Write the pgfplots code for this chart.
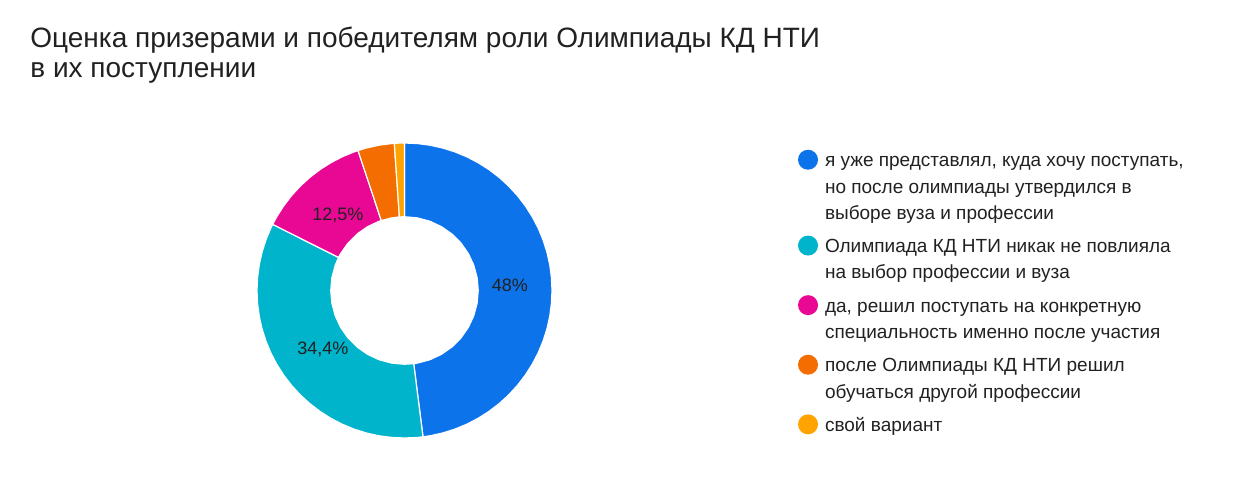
\documentclass[border=0pt]{standalone}
\usepackage{pgfplots}
\pgfplotsset{compat=1.18}
\usepackage{fontspec}
\setmainfont{Liberation Sans}

\definecolor{cBlue}{RGB}{13,115,234}
\definecolor{cTeal}{RGB}{0,180,204}
\definecolor{cPink}{RGB}{233,8,147}
\definecolor{cOrange}{RGB}{243,109,0}
\definecolor{cYellow}{RGB}{255,163,0}
\definecolor{txt}{RGB}{33,33,33}

% legend entry: first baseline is the entry baseline
\newcommand{\lent}[1]{\parbox[t]{200pt}{\strut #1\strut}}

\begin{document}
\begin{tikzpicture}
\path[use as bounding box] (0,0) rectangle (625pt,-246pt);
\begin{scope}[x=0.5pt,y=-0.5pt]
\coordinate (ctr) at (404.5,290.5);
\node[anchor=base west, inner sep=0pt, text=txt, font=\fontsize{14}{16}\selectfont]
  at (30,48) {Оценка призерами и победителям роли Олимпиады КД НТИ};
\node[anchor=base west, inner sep=0pt, text=txt, font=\fontsize{14}{16}\selectfont]
  at (30,78) {в их поступлении};
\end{scope}

% shares: 48 / 34.4 / 12.5 / 4.0 / 1.1 %, clockwise from 12 o'clock
% sectors given as (angle, radius), outer radius 1, inner radius 0.5
\begin{axis}[
    at={(ctr)}, anchor=center,
    x=73.75pt, y=73.75pt,
    xmin=-1, xmax=1, ymin=-1, ymax=1,
    hide axis, clip=false,
    legend image code/.code={\fill[#1, draw=none] (5pt,0.36em) circle (5pt);},
    legend style={at={(axis description cs:1.834,0.981)}, anchor=north west,
        draw=none, fill=none, inner sep=0pt, outer sep=0pt,
        row sep=3.6pt, column sep=3.5pt,
        font=\fontsize{9.5}{13.1}\selectfont,
        cells={anchor=base west}, nodes={inner sep=0pt, text depth=, text=txt}},
]
\addplot[data cs=polar, fill=cBlue, draw=white, line width=0.6pt] coordinates {
 (90,1)(85,1)(80,1)(75,1)(70,1)(65,1)(60,1)(55,1)(50,1)(45,1)(40,1)(35,1)
 (30,1)(25,1)(20,1)(15,1)(10,1)(5,1)(0,1)(-5,1)(-10,1)(-15,1)(-20,1)(-25,1)
 (-30,1)(-35,1)(-40,1)(-45,1)(-50,1)(-55,1)(-60,1)(-65,1)(-70,1)(-75,1)(-80,1)(-82.8,1)
 (-82.8,0.5)(-80,0.5)(-70,0.5)(-60,0.5)(-50,0.5)(-40,0.5)(-30,0.5)(-20,0.5)(-10,0.5)
 (0,0.5)(10,0.5)(20,0.5)(30,0.5)(40,0.5)(50,0.5)(60,0.5)(70,0.5)(80,0.5)(90,0.5)
} -- cycle;
\addlegendentry{\lent{я уже представлял, куда хочу поступать,\\но после олимпиады утвердился в\\выборе вуза и профессии}}

\addplot[data cs=polar, fill=cTeal, draw=white, line width=0.6pt] coordinates {
 (-82.8,1)(-85,1)(-90,1)(-95,1)(-100,1)(-105,1)(-110,1)(-115,1)(-120,1)(-125,1)
 (-130,1)(-135,1)(-140,1)(-145,1)(-150,1)(-155,1)(-160,1)(-165,1)(-170,1)(-175,1)
 (-180,1)(-185,1)(-190,1)(-195,1)(-200,1)(-205,1)(-206.64,1)
 (-206.64,0.5)(-200,0.5)(-190,0.5)(-180,0.5)(-170,0.5)(-160,0.5)(-150,0.5)
 (-140,0.5)(-130,0.5)(-120,0.5)(-110,0.5)(-100,0.5)(-90,0.5)(-82.8,0.5)
} -- cycle;
\addlegendentry{\lent{Олимпиада КД НТИ никак не повлияла\\на выбор профессии и вуза}}

\addplot[data cs=polar, fill=cPink, draw=white, line width=0.6pt] coordinates {
 (-206.64,1)(-210,1)(-215,1)(-220,1)(-225,1)(-230,1)(-235,1)(-240,1)(-245,1)
 (-250,1)(-251.64,1)
 (-251.64,0.5)(-250,0.5)(-240,0.5)(-230,0.5)(-220,0.5)(-210,0.5)(-206.64,0.5)
} -- cycle;
\addlegendentry{\lent{да, решил поступать на конкретную\\специальность именно после участия}}

\addplot[data cs=polar, fill=cOrange, draw=white, line width=0.6pt] coordinates {
 (-251.64,1)(-255,1)(-260,1)(-265,1)(-266.04,1)
 (-266.04,0.5)(-260,0.5)(-251.64,0.5)
} -- cycle;
\addlegendentry{\lent{после Олимпиады КД НТИ решил\\обучаться другой профессии}}

\addplot[data cs=polar, fill=cYellow, draw=white, line width=0.6pt] coordinates {
 (-266.04,1)(-268,1)(-270,1)
 (-270,0.5)(-266.04,0.5)
} -- cycle;
\addlegendentry{\lent{свой вариант}}

\node[font=\fontsize{9}{10}\selectfont, text=txt] at (axis cs:0.715,0.037) {48\%};
\node[font=\fontsize{9}{10}\selectfont, text=txt] at (axis cs:-0.553,-0.397) {34,4\%};
\node[font=\fontsize{9}{10}\selectfont, text=txt] at (axis cs:-0.451,0.512) {12,5\%};
\end{axis}
\end{tikzpicture}
\end{document}
